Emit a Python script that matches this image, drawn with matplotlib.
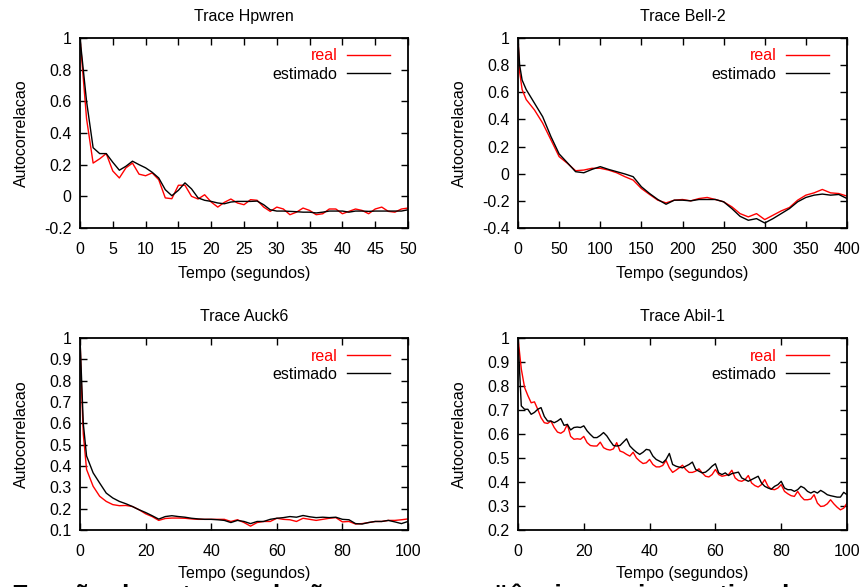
import matplotlib
matplotlib.use("Agg")
import matplotlib.pyplot as plt
import numpy as np

plt.rcParams["font.family"] = ["Liberation Sans", "DejaVu Sans"]

# Trace Hpwren (lag 0..50, step 1)
hp_x = list(range(0, 51))
hp_real = [1.0, 0.49, 0.21, 0.237, 0.27, 0.16, 0.116, 0.18, 0.21, 0.14,
           0.13, 0.148, 0.105, -0.01, -0.015, 0.07, 0.07, 0.0, -0.017, 0.01,
           -0.036, -0.068, -0.038, -0.017, -0.042, -0.053, -0.021, -0.025, -0.068, -0.095,
           -0.068, -0.08, -0.116, -0.1, -0.074, -0.089, -0.116, -0.11, -0.08, -0.08,
           -0.11, -0.095, -0.08, -0.089, -0.11, -0.08, -0.068, -0.095, -0.1, -0.08,
           -0.074]
hp_est = [1.0, 0.6, 0.307, 0.27, 0.27, 0.215, 0.165, 0.19, 0.222, 0.2,
          0.18, 0.152, 0.116, 0.042, 0.004, 0.038, 0.085, 0.047, -0.01, -0.025,
          -0.032, -0.042, -0.047, -0.036, -0.032, -0.032, -0.032, -0.03, -0.053, -0.085,
          -0.093, -0.093, -0.095, -0.097, -0.1, -0.1, -0.105, -0.1, -0.093, -0.093,
          -0.093, -0.1, -0.093, -0.093, -0.095, -0.093, -0.093, -0.093, -0.093, -0.093,
          -0.085]

# Trace Bell-2
bell_x = [0, 2, 5] + list(range(10, 401, 10))
bell_real = [1.0, 0.75, 0.62, 0.546, 0.47, 0.373, 0.25, 0.126, 0.077, 0.022, 0.027,
             0.04, 0.04, 0.027, 0.007, -0.022, -0.047, -0.109, -0.153, -0.195, -0.215,
             -0.195, -0.19, -0.2, -0.183, -0.175, -0.19, -0.207, -0.244, -0.294, -0.318,
             -0.294, -0.338, -0.306, -0.274, -0.249, -0.195, -0.158, -0.141, -0.116, -0.141,
             -0.146, -0.165]
bell_est = [1.0, 0.8, 0.69, 0.62, 0.52, 0.42, 0.274, 0.146, 0.081, 0.015, 0.007,
            0.032, 0.052, 0.032, 0.015, -0.002, -0.022, -0.096, -0.146, -0.19, -0.225,
            -0.195, -0.195, -0.2, -0.19, -0.19, -0.19, -0.207, -0.257, -0.314, -0.343,
            -0.331, -0.363, -0.331, -0.294, -0.257, -0.207, -0.175, -0.158, -0.15, -0.158,
            -0.153, -0.183]

# Trace Auck6
auck_x = [0, 0.5, 1] + list(range(2, 101, 2))
auck_real = [1.0, 0.75, 0.55, 0.384, 0.305, 0.258, 0.234, 0.219, 0.214, 0.215, 0.21,
             0.195, 0.176, 0.163, 0.145, 0.154, 0.156, 0.156, 0.155, 0.152, 0.15,
             0.15, 0.15, 0.15, 0.15, 0.14, 0.148, 0.135, 0.118, 0.135, 0.14,
             0.14, 0.155, 0.15, 0.148, 0.14, 0.155, 0.15, 0.145, 0.15, 0.155,
             0.158, 0.138, 0.14, 0.128, 0.13, 0.135, 0.14, 0.14, 0.145, 0.145,
             0.148, 0.152]
auck_est = [1.0, 0.8, 0.6, 0.447, 0.368, 0.32, 0.273, 0.25, 0.234, 0.223, 0.21,
            0.195, 0.182, 0.167, 0.151, 0.163, 0.167, 0.163, 0.16, 0.155, 0.152,
            0.15, 0.15, 0.148, 0.145, 0.135, 0.145, 0.14, 0.13, 0.14, 0.14,
            0.15, 0.155, 0.158, 0.163, 0.16, 0.168, 0.162, 0.158, 0.16, 0.158,
            0.16, 0.15, 0.148, 0.13, 0.128, 0.135, 0.14, 0.14, 0.145, 0.138,
            0.13, 0.14]

# Trace Abil-1 (lag 0..100, step 1)
abil_x = list(range(0, 101))
abil_real = [1.0, 0.871, 0.794, 0.76, 0.73, 0.734, 0.703, 0.668, 0.647, 0.644,
             0.654, 0.627, 0.608, 0.603, 0.612, 0.64, 0.59, 0.578, 0.58, 0.578,
             0.59, 0.564, 0.552, 0.55, 0.55, 0.566, 0.543, 0.536, 0.533, 0.538,
             0.564, 0.529, 0.524, 0.515, 0.508, 0.524, 0.5, 0.487, 0.477, 0.48,
             0.494, 0.473, 0.463, 0.463, 0.469, 0.49, 0.459, 0.44, 0.449, 0.459,
             0.47, 0.452, 0.44, 0.44, 0.445, 0.455, 0.438, 0.424, 0.421, 0.431,
             0.452, 0.431, 0.424, 0.427, 0.431, 0.449, 0.417, 0.406, 0.403, 0.41,
             0.427, 0.396, 0.385, 0.379, 0.389, 0.41, 0.382, 0.37, 0.368, 0.375,
             0.389, 0.361, 0.351, 0.343, 0.34, 0.361, 0.34, 0.326, 0.326, 0.329,
             0.347, 0.312, 0.298, 0.3, 0.309, 0.326, 0.309, 0.295, 0.284, 0.291,
             0.312]
abil_est = [1.0, 0.717, 0.703, 0.703, 0.682, 0.69, 0.703, 0.71, 0.673, 0.654,
            0.654, 0.647, 0.654, 0.664, 0.636, 0.64, 0.617, 0.627, 0.629, 0.627,
            0.634, 0.613, 0.598, 0.585, 0.585, 0.594, 0.606, 0.592, 0.571, 0.552,
            0.55, 0.552, 0.566, 0.58, 0.55, 0.536, 0.524, 0.515, 0.524, 0.536,
            0.533, 0.508, 0.494, 0.487, 0.48, 0.494, 0.519, 0.473, 0.466, 0.462,
            0.459, 0.466, 0.473, 0.483, 0.452, 0.445, 0.438, 0.441, 0.452, 0.466,
            0.476, 0.438, 0.431, 0.438, 0.427, 0.435, 0.438, 0.441, 0.417, 0.41,
            0.403, 0.41, 0.417, 0.424, 0.396, 0.382, 0.375, 0.37, 0.382, 0.389,
            0.403, 0.375, 0.368, 0.368, 0.361, 0.368, 0.382, 0.375, 0.361, 0.354,
            0.361, 0.354, 0.365, 0.357, 0.347, 0.343, 0.34, 0.337, 0.337, 0.357,
            0.347]

W, H = 863, 587
FS = 11.5
fig = plt.figure(figsize=(W / 100, H / 100), dpi=100)


def make_axes(left, top, right, bottom):
    return fig.add_axes([left / W, 1 - bottom / H, (right - left) / W, (bottom - top) / H])


def style(ax, title, x, real, est, xlim, xticks, ylim, yticks, ylabels, xlab_y):
    ax.plot(x, real, color="#ff0000", lw=1.0, label="real")
    ax.plot(x, est, color="black", lw=1.0, label="estimado")
    ax.set_xlim(*xlim)
    ax.set_ylim(*ylim)
    ax.set_xticks(xticks)
    ax.set_yticks(yticks)
    ax.set_yticklabels(ylabels)
    ax.tick_params(direction="in", length=5, width=1, top=True, right=True, labelsize=FS)
    ax.tick_params(axis="x", pad=10)
    ax.tick_params(axis="y", pad=6)
    for s in ax.spines.values():
        s.set_linewidth(1.3)
    ax.set_title(title, fontsize=FS, pad=12)
    ax.set_xlabel("Tempo (segundos)", fontsize=FS)
    ax.set_ylabel("Autocorrelacao", fontsize=FS)
    ax.xaxis.set_label_coords(0.5, xlab_y)
    ax.yaxis.set_label_coords(-0.155, 0.5)
    ax.legend(loc="upper right", bbox_to_anchor=(0.945, 0.945), frameon=False,
              markerfirst=False, fontsize=FS, handlelength=2.7, handletextpad=0.6,
              labelspacing=0.2, borderaxespad=0, borderpad=0,
              labelcolor=["#ff0000", "black"])


ax1 = make_axes(80, 38, 408, 228)
style(ax1, "Trace Hpwren", hp_x, hp_real, hp_est, (0, 50), range(0, 51, 5),
      (-0.2, 1), [-0.2, 0, 0.2, 0.4, 0.6, 0.8, 1], ["-0.2", "0", "0.2", "0.4", "0.6", "0.8", "1"],
      -0.2)

ax2 = make_axes(518, 38, 847, 228)
style(ax2, "Trace Bell-2", bell_x, bell_real, bell_est, (0, 400), range(0, 401, 50),
      (-0.4, 1), [-0.4, -0.2, 0, 0.2, 0.4, 0.6, 0.8, 1],
      ["-0.4", "-0.2", "0", "0.2", "0.4", "0.6", "0.8", "1"], -0.2)

yt = [0.1, 0.2, 0.3, 0.4, 0.5, 0.6, 0.7, 0.8, 0.9, 1]
yl = ["0.1", "0.2", "0.3", "0.4", "0.5", "0.6", "0.7", "0.8", "0.9", "1"]
ax3 = make_axes(80, 338, 408, 530)
style(ax3, "Trace Auck6", auck_x, auck_real, auck_est, (0, 100), range(0, 101, 20),
      (0.1, 1), yt, yl, -0.185)

ax4 = make_axes(518, 338, 847, 530)
style(ax4, "Trace Abil-1", abil_x, abil_real, abil_est, (0, 100), range(0, 101, 20),
      (0.2, 1), yt[1:], yl[1:], -0.185)

# caption of the page, cut off at the bottom edge as in the source image
fig.text(12 / W, 1 - 583 / H, "Função de autocorrelação para as seqüências reais e estimadas",
         fontsize=19, fontweight="bold", ha="left", va="top")

fig.savefig("out.png", dpi=100)
